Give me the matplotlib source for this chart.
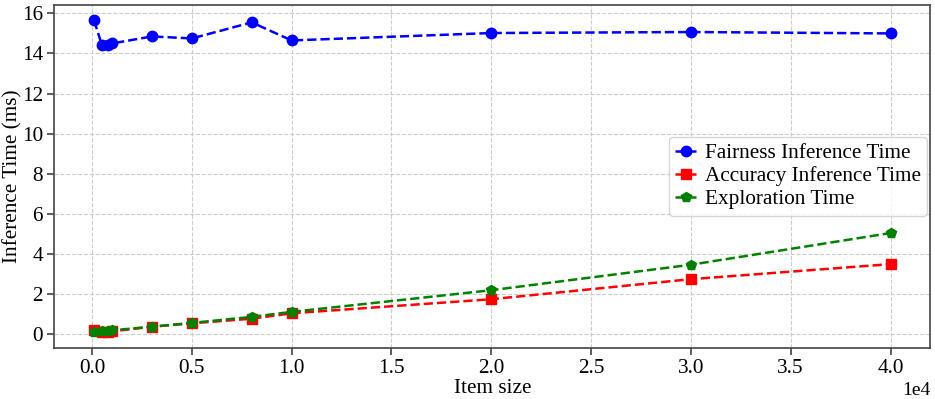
import matplotlib.pyplot as plt

item_size = [100, 500, 800, 1000, 3000, 5000, 8000, 10000, 20000, 30000, 40000]
fairness_time = [15.65, 14.4, 14.42, 14.5, 14.85, 14.75, 15.55, 14.65, 15.02, 15.07, 15.0]
accuracy_time = [0.2, 0.1, 0.12, 0.15, 0.38, 0.55, 0.78, 1.05, 1.75, 2.75, 3.5]
exploration_time = [0.1, 0.15, 0.15, 0.2, 0.38, 0.57, 0.87, 1.12, 2.2, 3.47, 5.05]

plt.rcParams['font.family'] = ['Liberation Serif', 'DejaVu Serif']
plt.rcParams['font.size'] = 15.3

fig, ax = plt.subplots(figsize=(9.35, 3.99), dpi=100)
fig.subplots_adjust(left=0.058, right=0.995, top=0.988, bottom=0.128)

ax.plot(item_size, fairness_time, 'o--', color='blue', markersize=7.5, linewidth=1.8,
        label='Fairness Inference Time')
ax.plot(item_size, accuracy_time, 's--', color='red', markersize=7.5, linewidth=1.8,
        label='Accuracy Inference Time')
ax.plot(item_size, exploration_time, 'p--', color='green', markersize=7.5, linewidth=1.8,
        label='Exploration Time')

ax.set_xlabel('Item size', labelpad=1)
ax.set_ylabel('Inference Time (ms)')
ax.yaxis.set_label_coords(-0.036, 0.5)
ax.set_yticks(range(0, 17, 2))
ax.ticklabel_format(axis='x', style='sci', scilimits=(0, 0))
ax.xaxis.get_offset_text().set_fontsize(14)
ax.grid(True, linestyle='--', color='#cccccc', linewidth=0.8)
ax.tick_params(direction='out', length=5, width=1.1, color='#333333', pad=3)
for s in ax.spines.values():
    s.set_color('#444444')
    s.set_linewidth(1.2)
ax.legend(loc='center right', handlelength=1.0, handletextpad=0.4,
          borderpad=0.3, labelspacing=0.15, borderaxespad=0.15, frameon=True)

fig.savefig('out.png')
